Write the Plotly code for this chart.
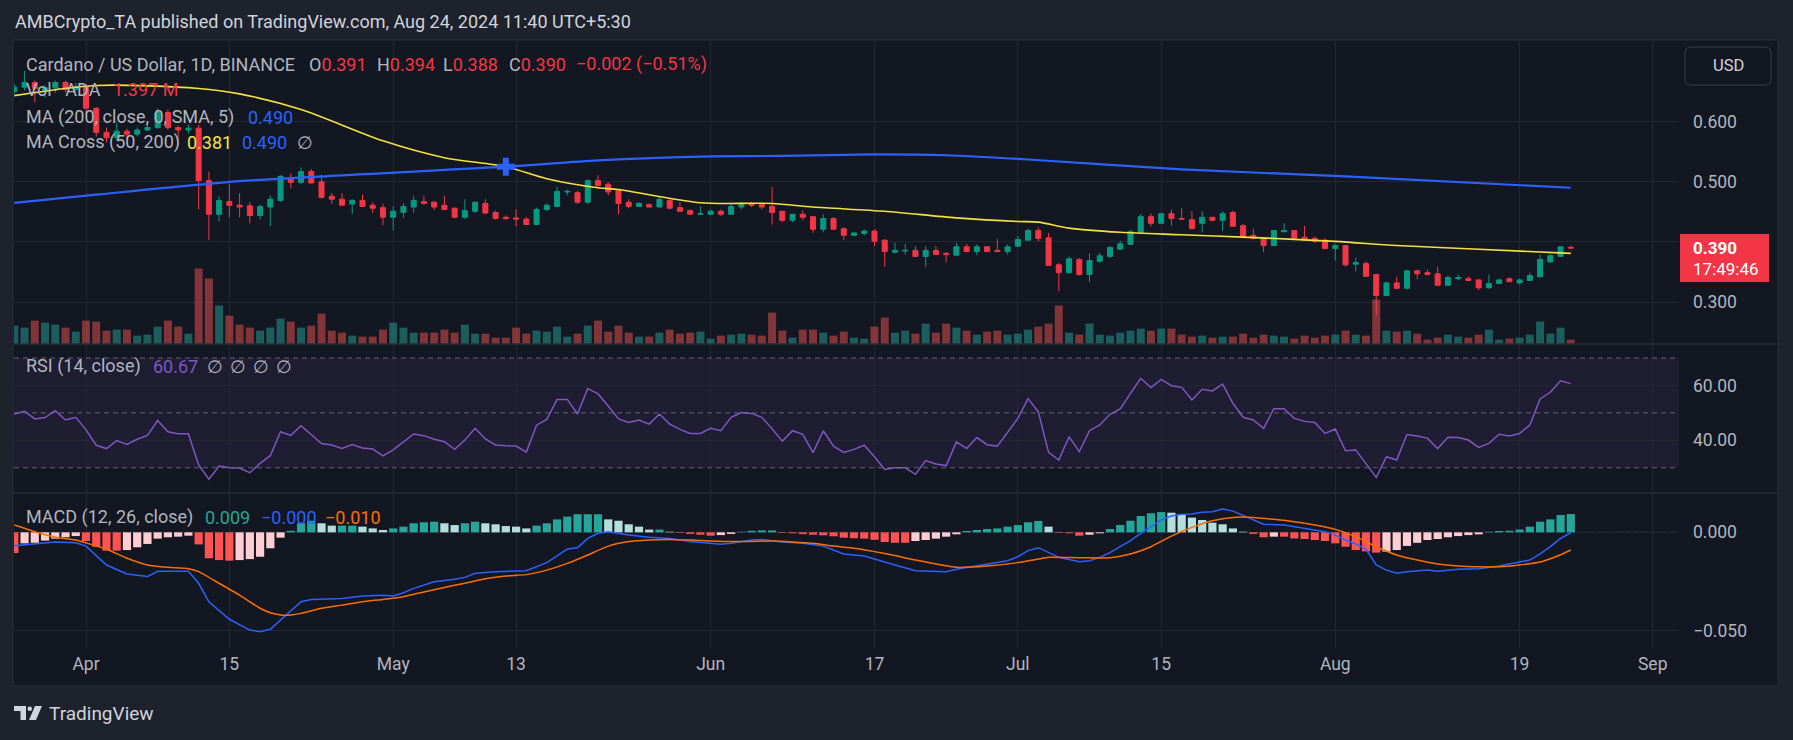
import pandas as pd
import plotly.graph_objects as go

# ---------------- data ----------------
dates = pd.date_range("2024-03-25", "2024-08-24", freq="D")

opens = [
    0.650, 0.657, 0.665, 0.652, 0.656, 0.665, 0.653,
    0.658, 0.622, 0.582, 0.573, 0.584, 0.579, 0.586, 0.590, 0.615, 0.590,
    0.586, 0.589, 0.502, 0.446, 0.467, 0.461, 0.460, 0.444, 0.458, 0.469,
    0.507, 0.499, 0.517, 0.500, 0.476, 0.471, 0.463, 0.469, 0.461, 0.457,
    0.441, 0.449, 0.458, 0.467, 0.466, 0.461, 0.456, 0.441, 0.451, 0.464,
    0.449, 0.441, 0.440, 0.438, 0.429, 0.454, 0.459, 0.483, 0.482, 0.466,
    0.502, 0.496, 0.486, 0.466, 0.459, 0.462, 0.458, 0.469, 0.457, 0.452, 0.446,
    0.446, 0.451, 0.446, 0.458, 0.462, 0.462, 0.459, 0.451, 0.436, 0.446,
    0.442, 0.421, 0.439, 0.422, 0.411, 0.414, 0.418, 0.403, 0.383, 0.385,
    0.386, 0.376, 0.386, 0.381, 0.378, 0.392, 0.384, 0.392, 0.386, 0.384,
    0.393, 0.403, 0.419, 0.407, 0.362, 0.349, 0.371, 0.346, 0.368, 0.376,
    0.388, 0.396, 0.416, 0.442, 0.431, 0.447, 0.439, 0.437, 0.431, 0.441,
    0.436, 0.449, 0.427, 0.411, 0.407, 0.394, 0.417, 0.419, 0.408, 0.406, 0.403,
    0.389, 0.394, 0.363, 0.364, 0.346, 0.311, 0.332, 0.323, 0.352, 0.349,
    0.347, 0.328, 0.339, 0.339, 0.337, 0.324, 0.331, 0.339, 0.332, 0.336,
    0.342, 0.367, 0.376, 0.391,
]
highs = [
    0.662, 0.684, 0.668, 0.660, 0.668, 0.668, 0.664,
    0.660, 0.624, 0.590, 0.598, 0.588, 0.590, 0.598, 0.622, 0.620, 0.593,
    0.595, 0.595, 0.517, 0.476, 0.497, 0.481, 0.466, 0.462, 0.477, 0.511,
    0.514, 0.524, 0.521, 0.512, 0.481, 0.481, 0.471, 0.479, 0.466, 0.464,
    0.459, 0.464, 0.476, 0.477, 0.468, 0.477, 0.457, 0.471, 0.467, 0.471,
    0.452, 0.444, 0.454, 0.441, 0.457, 0.464, 0.492, 0.487, 0.485, 0.504,
    0.511, 0.499, 0.488, 0.471, 0.466, 0.464, 0.476, 0.471, 0.466, 0.454, 0.459,
    0.454, 0.454, 0.464, 0.467, 0.467, 0.464, 0.491, 0.451, 0.446, 0.452,
    0.442, 0.446, 0.441, 0.425, 0.416, 0.421, 0.421, 0.404, 0.399, 0.397,
    0.393, 0.393, 0.393, 0.383, 0.399, 0.397, 0.396, 0.392, 0.405, 0.396,
    0.410, 0.422, 0.424, 0.415, 0.365, 0.376, 0.373, 0.381, 0.382, 0.393,
    0.402, 0.420, 0.447, 0.447, 0.447, 0.454, 0.456, 0.451, 0.451, 0.441,
    0.451, 0.452, 0.430, 0.422, 0.407, 0.420, 0.431, 0.420, 0.427, 0.409, 0.406,
    0.397, 0.394, 0.374, 0.368, 0.346, 0.334, 0.342, 0.354, 0.354, 0.354,
    0.359, 0.344, 0.346, 0.343, 0.338, 0.346, 0.339, 0.341, 0.339, 0.349,
    0.379, 0.381, 0.392, 0.394,
]
lows = [
    0.645, 0.652, 0.632, 0.640, 0.648, 0.648, 0.650,
    0.612, 0.575, 0.565, 0.568, 0.570, 0.575, 0.584, 0.588, 0.586, 0.562,
    0.580, 0.454, 0.403, 0.434, 0.441, 0.441, 0.431, 0.437, 0.426, 0.467,
    0.489, 0.496, 0.497, 0.472, 0.463, 0.461, 0.446, 0.458, 0.448, 0.428,
    0.419, 0.440, 0.448, 0.462, 0.453, 0.453, 0.440, 0.438, 0.448, 0.446,
    0.437, 0.436, 0.426, 0.428, 0.428, 0.451, 0.457, 0.477, 0.463, 0.463,
    0.492, 0.477, 0.446, 0.456, 0.458, 0.458, 0.458, 0.454, 0.450, 0.445, 0.445,
    0.445, 0.443, 0.446, 0.454, 0.458, 0.454, 0.429, 0.433, 0.433, 0.436,
    0.415, 0.416, 0.421, 0.403, 0.410, 0.411, 0.393, 0.359, 0.381, 0.379,
    0.375, 0.358, 0.379, 0.366, 0.378, 0.384, 0.378, 0.384, 0.384, 0.379,
    0.393, 0.403, 0.401, 0.361, 0.318, 0.347, 0.344, 0.333, 0.365, 0.373,
    0.387, 0.396, 0.415, 0.426, 0.431, 0.427, 0.438, 0.422, 0.416, 0.434,
    0.418, 0.426, 0.406, 0.404, 0.383, 0.394, 0.416, 0.404, 0.403, 0.398, 0.388,
    0.369, 0.359, 0.351, 0.342, 0.278, 0.310, 0.321, 0.321, 0.338, 0.344,
    0.328, 0.328, 0.336, 0.335, 0.320, 0.322, 0.330, 0.334, 0.329, 0.336,
    0.342, 0.365, 0.376, 0.388,
]
closes = [
    0.657, 0.665, 0.655, 0.656, 0.665, 0.653, 0.658,
    0.622, 0.582, 0.573, 0.584, 0.579, 0.586, 0.590, 0.615, 0.590, 0.586,
    0.589, 0.502, 0.446, 0.469, 0.461, 0.458, 0.444, 0.459, 0.471, 0.509,
    0.499, 0.517, 0.498, 0.474, 0.471, 0.461, 0.469, 0.459, 0.456, 0.441,
    0.451, 0.459, 0.469, 0.464, 0.458, 0.454, 0.441, 0.452, 0.466, 0.448,
    0.439, 0.439, 0.438, 0.429, 0.454, 0.461, 0.484, 0.484, 0.466, 0.502,
    0.494, 0.483, 0.464, 0.459, 0.464, 0.458, 0.471, 0.456, 0.451, 0.446, 0.447,
    0.451, 0.446, 0.459, 0.462, 0.461, 0.458, 0.449, 0.436, 0.446, 0.441,
    0.421, 0.439, 0.421, 0.411, 0.415, 0.418, 0.401, 0.384, 0.386, 0.386,
    0.376, 0.386, 0.379, 0.379, 0.392, 0.384, 0.392, 0.384, 0.384, 0.392,
    0.404, 0.419, 0.406, 0.361, 0.349, 0.372, 0.346, 0.369, 0.377, 0.391,
    0.397, 0.417, 0.442, 0.431, 0.447, 0.439, 0.438, 0.422, 0.441, 0.436,
    0.447, 0.426, 0.409, 0.406, 0.394, 0.419, 0.419, 0.406, 0.403, 0.401, 0.389,
    0.394, 0.362, 0.366, 0.343, 0.311, 0.332, 0.323, 0.352, 0.347, 0.346,
    0.328, 0.341, 0.341, 0.336, 0.324, 0.331, 0.337, 0.334, 0.337, 0.344,
    0.371, 0.377, 0.392, 0.390,
]
volumes_m = [
    5.91, 5.27, 7.53, 6.88, 6.24, 5.27, 3.98,
    7.53, 7.20, 4.30, 4.62, 4.62, 2.69, 3.01, 5.59, 7.53, 5.59,
    3.33, 24.3, 21.1, 12.4, 9.14, 6.24, 5.27, 4.30, 5.27, 8.17,
    7.20, 5.27, 5.91, 9.78, 4.30, 3.66, 2.69, 2.37, 2.37, 4.62,
    6.88, 5.27, 3.66, 3.66, 3.66, 4.62, 3.66, 6.24, 3.33, 3.33,
    2.04, 2.04, 5.27, 3.33, 4.30, 3.98, 5.59, 2.37, 3.33, 5.91,
    7.53, 3.98, 5.91, 3.66, 2.37, 2.37, 3.66, 4.62, 3.33, 3.66, 3.98,
    1.72, 2.69, 3.01, 3.33, 3.01, 2.69, 10.1, 4.30, 2.04, 4.62,
    4.62, 3.66, 2.69, 3.98, 2.04, 1.72, 5.59, 8.49, 3.66, 4.30,
    3.33, 6.56, 3.66, 6.56, 5.27, 4.30, 3.01, 3.98, 4.30, 3.01,
    3.33, 4.62, 5.59, 6.56, 12.4, 3.66, 3.01, 6.56, 3.01, 2.69,
    3.66, 4.30, 4.95, 4.30, 4.95, 4.95, 3.01, 2.37, 2.69, 2.04,
    2.37, 2.37, 3.33, 2.04, 3.01, 2.69, 2.37, 1.72, 2.69, 2.04, 2.69,
    3.01, 4.30, 3.01, 2.69, 14.3, 4.30, 3.98, 4.30, 3.33, 1.40,
    2.04, 3.01, 2.37, 2.04, 3.01, 4.62, 1.40, 1.72, 2.04, 3.01,
    7.20, 3.33, 5.27, 1.397,
]
rsi = [
    49.6, 50.6, 47.8, 48.3, 50.8, 47.4, 48.4,
    43.8, 38.2, 37.0, 39.9, 38.5, 40.4, 41.8, 47.2, 43.1, 42.4,
    42.4, 31.0, 25.8, 30.6, 30.0, 29.9, 28.2, 31.6, 34.4, 43.1,
    41.8, 45.3, 42.2, 38.8, 38.3, 37.0, 38.5, 37.2, 36.8, 34.3,
    36.5, 39.4, 42.3, 41.7, 40.4, 39.5, 36.7, 40.1, 44.4, 40.5,
    38.3, 38.0, 37.9, 35.7, 45.5, 47.6, 54.9, 54.9, 49.6, 58.9,
    56.9, 52.5, 47.8, 46.5, 47.4, 45.9, 49.6, 45.9, 44.0, 42.5, 42.5,
    44.4, 43.5, 48.4, 50.1, 49.8, 48.4, 44.2, 39.7, 43.5, 42.2,
    35.5, 43.5, 37.9, 35.6, 36.7, 38.2, 34.0, 29.4, 30.0, 30.0,
    27.6, 32.6, 31.4, 30.8, 39.4, 37.0, 41.0, 38.4, 37.9, 42.8,
    48.0, 55.2, 50.4, 35.6, 32.8, 41.3, 35.9, 43.5, 45.6, 49.5,
    51.4, 57.1, 62.6, 59.2, 62.2, 59.9, 59.3, 54.7, 58.6, 58.0,
    60.5, 53.5, 48.4, 47.4, 44.4, 51.5, 51.5, 48.0, 46.9, 46.5, 42.5,
    44.1, 36.2, 36.5, 31.6, 26.5, 34.0, 32.8, 42.1, 41.6, 40.8,
    37.0, 41.1, 41.0, 40.1, 37.4, 38.9, 42.2, 41.6, 42.5, 45.6,
    55.1, 57.5, 61.7, 60.67,
]
macd_hist = [
    -0.0105, -0.0056, -0.0053, -0.0042, -0.0032, -0.0025, -0.0019,
    -0.0044, -0.0073, -0.0093, -0.0093, -0.0090, -0.0076, -0.0059, -0.0032, -0.0025, -0.0022,
    -0.0017, -0.0061, -0.0132, -0.0141, -0.0144, -0.0141, -0.0136, -0.0124, -0.0081, -0.0027,
    0.0008, 0.0046, 0.0059, 0.0046, 0.0034, 0.0034, 0.0034, 0.0029, 0.0020, 0.0012,
    0.0020, 0.0029, 0.0046, 0.0051, 0.0054, 0.0046, 0.0037, 0.0046, 0.0054, 0.0046,
    0.0041, 0.0032, 0.0029, 0.0020, 0.0034, 0.0046, 0.0066, 0.0080, 0.0092, 0.0092,
    0.0092, 0.0066, 0.0059, 0.0041, 0.0029, 0.0014, 0.0014, 0.0003, -0.0003, -0.0008, -0.0012,
    -0.0017, -0.0014, -0.0008, 0.0003, 0.0008, 0.0010, 0.0010, -0.0003, -0.0005, -0.0009,
    -0.0012, -0.0015, -0.0020, -0.0027, -0.0030, -0.0032, -0.0038, -0.0049, -0.0053, -0.0053,
    -0.0044, -0.0039, -0.0032, -0.0022, -0.0010, 0.0007, 0.0012, 0.0017, 0.0020, 0.0029,
    0.0037, 0.0051, 0.0058, 0.0029, -0.0003, -0.0005, -0.0017, -0.0012, -0.0005, 0.0017,
    0.0037, 0.0059, 0.0083, 0.0097, 0.0103, 0.0100, 0.0090, 0.0075, 0.0063, 0.0049,
    0.0041, 0.0020, 0.0003, -0.0008, -0.0025, -0.0022, -0.0022, -0.0031, -0.0034, -0.0039, -0.0044,
    -0.0056, -0.0073, -0.0090, -0.0097, -0.0103, -0.0098, -0.0090, -0.0069, -0.0053, -0.0039,
    -0.0034, -0.0025, -0.0019, -0.0014, -0.0010, 0.0003, 0.0007, 0.0008, 0.0014, 0.0029,
    0.0054, 0.0066, 0.0088, 0.0093,
]

ma200_dates = ["2024-03-25", "2024-04-02", "2024-04-16", "2024-05-12", "2024-05-21",
               "2024-06-01", "2024-06-08", "2024-06-17", "2024-06-24", "2024-07-02",
               "2024-07-17", "2024-08-02", "2024-08-24"]
ma200_vals = [0.465, 0.4785, 0.501, 0.525, 0.5355, 0.542, 0.543, 0.5455, 0.544,
              0.537, 0.5205, 0.509, 0.490]

ma50_dates = ["2024-03-25", "2024-04-02", "2024-04-12", "2024-04-16", "2024-04-22",
              "2024-04-30", "2024-05-06", "2024-05-12", "2024-05-16", "2024-05-21",
              "2024-05-23", "2024-05-31", "2024-06-07", "2024-06-11", "2024-06-18",
              "2024-06-25", "2024-07-01", "2024-07-03", "2024-07-06", "2024-07-11",
              "2024-07-17", "2024-07-23", "2024-08-01", "2024-08-07", "2024-08-15",
              "2024-08-24"]
ma50_vals = [0.643, 0.660, 0.655, 0.646, 0.620, 0.568, 0.540, 0.525, 0.505, 0.490,
             0.487, 0.465, 0.464, 0.458, 0.451, 0.440, 0.434, 0.433, 0.423, 0.416,
             0.412, 0.408, 0.401, 0.394, 0.388, 0.381]

cross_date = ["2024-05-12"]
cross_val = [0.525]

macd_dates = ["2024-03-25", "2024-03-27", "2024-03-29", "2024-03-31", "2024-04-01",
              "2024-04-03", "2024-04-05", "2024-04-07", "2024-04-08", "2024-04-11",
              "2024-04-12", "2024-04-13", "2024-04-15", "2024-04-17", "2024-04-18",
              "2024-04-19", "2024-04-20", "2024-04-21", "2024-04-22", "2024-04-23",
              "2024-04-26", "2024-04-28", "2024-04-30", "2024-05-01", "2024-05-02",
              "2024-05-03", "2024-05-05", "2024-05-07", "2024-05-08", "2024-05-09",
              "2024-05-11", "2024-05-14", "2024-05-15", "2024-05-16", "2024-05-17",
              "2024-05-18", "2024-05-19", "2024-05-20", "2024-05-21", "2024-05-22",
              "2024-05-24", "2024-05-26", "2024-05-28", "2024-05-30", "2024-06-02",
              "2024-06-03", "2024-06-05", "2024-06-06", "2024-06-08", "2024-06-10",
              "2024-06-12", "2024-06-14", "2024-06-16", "2024-06-18", "2024-06-19",
              "2024-06-21", "2024-06-24", "2024-06-25", "2024-06-28", "2024-06-30",
              "2024-07-01", "2024-07-02", "2024-07-03", "2024-07-04", "2024-07-05",
              "2024-07-07", "2024-07-08", "2024-07-09", "2024-07-10", "2024-07-11",
              "2024-07-12", "2024-07-13", "2024-07-14", "2024-07-15", "2024-07-16",
              "2024-07-17", "2024-07-18", "2024-07-19", "2024-07-20", "2024-07-21",
              "2024-07-22", "2024-07-23", "2024-07-24", "2024-07-25", "2024-07-27",
              "2024-07-29", "2024-07-31", "2024-08-01", "2024-08-02", "2024-08-03",
              "2024-08-04", "2024-08-05", "2024-08-06", "2024-08-07", "2024-08-08",
              "2024-08-10", "2024-08-11", "2024-08-13", "2024-08-15", "2024-08-17",
              "2024-08-19", "2024-08-20", "2024-08-21", "2024-08-22", "2024-08-23",
              "2024-08-24"]
macd_vals = [-0.0068, -0.0059, -0.0049, -0.0053, -0.0070,
             -0.0166, -0.0212, -0.0225, -0.0198, -0.0198,
             -0.0259, -0.0353, -0.0442, -0.0497, -0.0505,
             -0.0493, -0.0446, -0.0395, -0.0353, -0.0341,
             -0.0336, -0.0324, -0.0320, -0.0324, -0.0307,
             -0.0285, -0.0251, -0.0239, -0.0229, -0.0208,
             -0.0200, -0.0195, -0.0175, -0.0154, -0.0120,
             -0.0085, -0.0078, -0.0031, -0.0005, 0.0003,
             -0.0014, -0.0025, -0.0031, -0.0047, -0.0061,
             -0.0056, -0.0039, -0.0036, -0.0049, -0.0056,
             -0.0070, -0.0110, -0.0120, -0.0152, -0.0166,
             -0.0195, -0.0200, -0.0188, -0.0161, -0.0144,
             -0.0124, -0.0093, -0.0078, -0.0103, -0.0127,
             -0.0149, -0.0144, -0.0127, -0.0103, -0.0073,
             -0.0042, -0.0005, 0.0029, 0.0063, 0.0083,
             0.0092, 0.0093, 0.0102, 0.0105, 0.0119,
             0.0108, 0.0085, 0.0063, 0.0041, 0.0037,
             0.0020, 0.0003, -0.0014, -0.0039, -0.0059,
             -0.0086, -0.0166, -0.0192, -0.0208, -0.0200,
             -0.0192, -0.0198, -0.0188, -0.0185, -0.0171,
             -0.0149, -0.0141, -0.0110, -0.0073, -0.0031,
             -0.0002]

signal_dates = ["2024-03-25", "2024-03-27", "2024-03-29", "2024-03-31", "2024-04-03",
                "2024-04-05", "2024-04-07", "2024-04-09", "2024-04-11", "2024-04-12",
                "2024-04-14", "2024-04-16", "2024-04-18", "2024-04-19", "2024-04-20",
                "2024-04-21", "2024-04-22", "2024-04-24", "2024-04-26", "2024-04-28",
                "2024-04-30", "2024-05-02", "2024-05-04", "2024-05-06", "2024-05-08",
                "2024-05-10", "2024-05-12", "2024-05-14", "2024-05-16", "2024-05-18",
                "2024-05-20", "2024-05-22", "2024-05-24", "2024-05-26", "2024-05-28",
                "2024-05-30", "2024-06-01", "2024-06-03", "2024-06-05", "2024-06-07",
                "2024-06-09", "2024-06-11", "2024-06-13", "2024-06-15", "2024-06-17",
                "2024-06-19", "2024-06-21", "2024-06-25", "2024-06-28", "2024-07-01",
                "2024-07-03", "2024-07-04", "2024-07-07", "2024-07-10", "2024-07-12",
                "2024-07-14", "2024-07-16", "2024-07-18", "2024-07-20", "2024-07-22",
                "2024-07-24", "2024-07-26", "2024-07-28", "2024-07-30", "2024-08-01",
                "2024-08-03", "2024-08-05", "2024-08-07", "2024-08-09", "2024-08-11",
                "2024-08-13", "2024-08-15", "2024-08-17", "2024-08-19", "2024-08-21",
                "2024-08-22", "2024-08-23", "2024-08-24"]
signal_vals = [0.0037, 0.0003, -0.0025, -0.0039, -0.0086,
               -0.0132, -0.0166, -0.0178, -0.0185, -0.0200,
               -0.0259, -0.0319, -0.0386, -0.0409, -0.0420,
               -0.0420, -0.0412, -0.0386, -0.0370, -0.0353,
               -0.0341, -0.0327, -0.0303, -0.0280, -0.0259,
               -0.0236, -0.0222, -0.0215, -0.0192, -0.0158,
               -0.0115, -0.0070, -0.0047, -0.0039, -0.0036,
               -0.0039, -0.0044, -0.0047, -0.0046, -0.0044,
               -0.0049, -0.0056, -0.0070, -0.0081, -0.0098,
               -0.0118, -0.0141, -0.0178, -0.0171, -0.0154,
               -0.0136, -0.0127, -0.0129, -0.0129, -0.0110,
               -0.0073, -0.0019, 0.0025, 0.0059, 0.0076,
               0.0076, 0.0066, 0.0054, 0.0037, 0.0015,
               -0.0022, -0.0073, -0.0115, -0.0141, -0.0161,
               -0.0171, -0.0175, -0.0175, -0.0166, -0.0151,
               -0.0134, -0.0114, -0.0090]

tick_dates = ["2024-04-01", "2024-04-15", "2024-05-01", "2024-05-13", "2024-06-01",
              "2024-06-17", "2024-07-01", "2024-07-15", "2024-08-01", "2024-08-19",
              "2024-09-01"]
tick_text = ["Apr", "15", "May", "13", "Jun", "17", "Jul", "15", "Aug", "19", "Sep"]

for arr in (opens, highs, lows, closes, volumes_m, rsi, macd_hist):
    assert len(arr) == len(dates), len(arr)

# ---------------- styling ----------------
W, H = 1793, 740
FONT = "Roboto"
TXT = "#b2b5be"
GRID = "#232733"
GREEN, RED = "#089981", "#f23645"
BLUE, YELLOW, PURPLE, ORANGE = "#2962ff", "#f5e33b", "#7e57c2", "#ff6d00"
LEG = 18
AX = 17.5


def fx(x):
    return x / W


def fy(y):
    return 1 - y / H


PANEL_T, PRICE_B, RSI_B, MACD_B, PANEL_B = 40, 344, 493, 648, 686
PLOT_L, PLOT_R, PANEL_R = 14, 1679, 1778

day0 = pd.Timestamp("2024-04-01")
x_lo = day0 + pd.Timedelta(days=(PLOT_L - 86) / 10.24)
x_hi = day0 + pd.Timedelta(days=(PLOT_R - 86) / 10.24)

vol_colors = ["rgba(38,166,154,0.5)" if c >= o else "rgba(239,83,80,0.5)"
              for o, c in zip(opens, closes)]
hist_colors = []
prev = 0.0
for v in macd_hist:
    if v >= 0:
        hist_colors.append("#26a69a" if v >= prev else "#b2dfdb")
    else:
        hist_colors.append("#ffcdd2" if v > prev else "#ff5252")
    prev = v

fig = go.Figure()
day_ms = 86400000

fig.add_trace(go.Bar(x=dates, y=volumes_m, marker=dict(color=vol_colors, line=dict(width=0)),
                     width=0.78 * day_ms, xaxis="x", yaxis="y2"))
fig.add_trace(go.Scatter(x=ma200_dates, y=ma200_vals, mode="lines",
                         line=dict(color=BLUE, width=2.2, shape="spline", smoothing=0.6),
                         xaxis="x", yaxis="y"))
fig.add_trace(go.Scatter(x=ma50_dates, y=ma50_vals, mode="lines",
                         line=dict(color=YELLOW, width=1.6, shape="spline", smoothing=0.8),
                         xaxis="x", yaxis="y"))
fig.add_trace(go.Candlestick(x=dates, open=opens, high=highs, low=lows, close=closes,
                             increasing=dict(line=dict(color=GREEN, width=1), fillcolor=GREEN),
                             decreasing=dict(line=dict(color=RED, width=1), fillcolor=RED),
                             whiskerwidth=0, xaxis="x", yaxis="y"))
fig.add_trace(go.Scatter(x=cross_date, y=cross_val, mode="markers",
                         marker=dict(symbol="cross", size=15, color=BLUE, line=dict(width=0)),
                         xaxis="x", yaxis="y"))
fig.add_trace(go.Scatter(x=dates, y=rsi, mode="lines", line=dict(color=PURPLE, width=1.5),
                         xaxis="x", yaxis="y3"))
fig.add_trace(go.Bar(x=dates, y=macd_hist, marker=dict(color=hist_colors, line=dict(width=0)),
                     width=0.8 * day_ms, xaxis="x", yaxis="y4"))
fig.add_trace(go.Scatter(x=macd_dates, y=macd_vals, mode="lines", line=dict(color=BLUE, width=1.5),
                         xaxis="x", yaxis="y4"))
fig.add_trace(go.Scatter(x=signal_dates, y=signal_vals, mode="lines",
                         line=dict(color=ORANGE, width=1.5, shape="spline", smoothing=0.5),
                         xaxis="x", yaxis="y4"))

yax_common = dict(side="right", anchor="x", showgrid=True, gridcolor=GRID, zeroline=False,
                  showline=False, ticks="", ticklabelstandoff=13,
                  tickfont=dict(family=FONT, size=AX, color=TXT), fixedrange=True)

fig.update_layout(
    width=W, height=H, margin=dict(l=0, r=0, t=0, b=0),
    paper_bgcolor="#1e222d", plot_bgcolor="rgba(0,0,0,0)",
    showlegend=False, barmode="overlay", hovermode=False,
    font=dict(family=FONT, color=TXT, size=15),
    xaxis=dict(domain=[fx(PLOT_L), fx(PLOT_R)], range=[x_lo, x_hi], anchor="y4", type="date",
               tickvals=tick_dates, ticktext=tick_text, showgrid=True, gridcolor=GRID,
               zeroline=False, showline=False, ticks="", ticklabelstandoff=3,
               tickfont=dict(family=FONT, size=AX, color=TXT),
               rangeslider=dict(visible=False), fixedrange=True),
    yaxis=dict(domain=[fy(PRICE_B), fy(PANEL_T + 1)], range=[0.2305, 0.7338],
               tickvals=[0.3, 0.4, 0.5, 0.6], ticktext=["0.300", "", "0.500", "0.600"], **yax_common),
    yaxis2=dict(overlaying="y", range=[0, 97.5], visible=False, fixedrange=True),
    yaxis3=dict(domain=[fy(RSI_B), fy(PRICE_B)], range=[20.8, 75.1],
                tickvals=[40, 60], tickformat=".2f", **yax_common),
    yaxis4=dict(domain=[fy(MACD_B), fy(RSI_B)], range=[-0.0588, 0.0200],
                tickvals=[-0.05, 0.0], ticktext=["\u22120.050", "0.000"], **yax_common),
)

shapes = []
shapes.append(dict(type="rect", xref="paper", yref="paper", x0=fx(PLOT_L - 1), x1=fx(PANEL_R),
                   y0=fy(PANEL_B), y1=fy(PANEL_T), fillcolor="#131722",
                   line=dict(color="#2a2e39", width=1), layer="below"))
for yy in (PRICE_B, RSI_B):
    shapes.append(dict(type="line", xref="paper", yref="paper", x0=fx(PLOT_L - 1), x1=fx(PANEL_R),
                       y0=fy(yy), y1=fy(yy), line=dict(color="#2a2e39", width=1.5)))
shapes.append(dict(type="rect", xref="x domain", yref="y3", x0=0, x1=1, y0=30, y1=70,
                   fillcolor="rgba(126,87,194,0.1)", line=dict(width=0), layer="below"))
for lvl in (70, 50, 30):
    shapes.append(dict(type="line", xref="x domain", yref="y3", x0=0, x1=1, y0=lvl, y1=lvl,
                       line=dict(color="rgba(120,123,134,0.75)", width=1, dash="5px,4px")))
shapes.append(dict(type="line", xref="x domain", yref="y4", x0=0, x1=1, y0=0, y1=0,
                   line=dict(color="rgba(120,123,134,0.6)", width=1, dash="5px,4px"), layer="below"))
shapes.append(dict(type="rect", xref="paper", yref="paper", x0=fx(1680), x1=fx(1769),
                   y0=fy(282), y1=fy(234), fillcolor=RED, line=dict(width=0)))


def rrect(x0, y0, x1, y1, r):
    pts = [(x0 + r, y0), (x1 - r, y0), ("Q", x1, y0, x1, y0 + r), (x1, y1 - r),
           ("Q", x1, y1, x1 - r, y1), (x0 + r, y1), ("Q", x0, y1, x0, y1 - r),
           (x0, y0 + r), ("Q", x0, y0, x0 + r, y0)]
    s = ""
    for i, p in enumerate(pts):
        if p[0] == "Q":
            s += f" Q{fx(p[1])},{fy(p[2])} {fx(p[3])},{fy(p[4])}"
        else:
            s += (" M" if i == 0 else " L") + f"{fx(p[0])},{fy(p[1])}"
    return s + " Z"


shapes.append(dict(type="path", xref="paper", yref="paper", path=rrect(1685, 47, 1771, 85, 6),
                   fillcolor="#131722", line=dict(color="#3a3e4a", width=1)))
shapes.append(dict(type="path", xref="paper", yref="paper",
                   path=f"M{fx(14)},{fy(706)} L{fx(26)},{fy(706)} L{fx(26)},{fy(720)} L{fx(20.5)},{fy(720)} "
                        f"L{fx(20.5)},{fy(711)} L{fx(14)},{fy(711)} Z",
                   fillcolor="#d1d4dc", line=dict(width=0)))
shapes.append(dict(type="circle", xref="paper", yref="paper", x0=fx(27.5), x1=fx(32), y0=fy(711), y1=fy(706.5),
                   fillcolor="#d1d4dc", line=dict(width=0)))
shapes.append(dict(type="path", xref="paper", yref="paper",
                   path=f"M{fx(35)},{fy(706)} L{fx(42)},{fy(706)} L{fx(36)},{fy(720)} L{fx(29)},{fy(720)} Z",
                   fillcolor="#d1d4dc", line=dict(width=0)))
fig.update_layout(shapes=shapes)


def ann(x, y, text, size=LEG, color=TXT, xanchor="left", **kw):
    return dict(x=fx(x), y=fy(y), xref="paper", yref="paper", text=text, showarrow=False,
                xanchor=xanchor, yanchor="middle", font=dict(family=FONT, size=size, color=color), **kw)


def red(t):
    return f"<span style='color:{RED}'>{t}</span>"


anns = [
    ann(13, 21, "AMBCrypto_TA published on TradingView.com, Aug 24, 2024 11:40 UTC+5:30", color="#d1d4dc"),
    ann(24, 64, "Cardano / US Dollar, 1D, BINANCE"),
    ann(307, 64, "O" + red("0.391")),
    ann(375, 64, "H" + red("0.394")),
    ann(441, 64, "L" + red("0.388")),
    ann(507, 64, "C" + red("0.390")),
    ann(574, 64, "\u22120.002 (\u22120.51%)", color=RED),
    ann(24, 90, "Vol · ADA"),
    ann(111, 90, "1.397 M", color=RED),
    ann(24, 117, "MA (200, close, 0, SMA, 5)"),
    ann(246, 117, "0.490", color=BLUE),
    ann(24, 142, "MA Cross (50, 200)"),
    ann(185, 142, "0.381", color=YELLOW),
    ann(240, 142, "0.490", color=BLUE),
    ann(295, 142, "\u2205"),
    ann(24, 366, "RSI (14, close)"),
    ann(151, 366, "60.67", color=PURPLE),
    ann(205, 366, "\u2205"),
    ann(228, 366, "\u2205"),
    ann(251, 366, "\u2205"),
    ann(274, 366, "\u2205"),
    ann(24, 517, "MACD (12, 26, close)"),
    ann(203, 517, "0.009", color="#26a69a"),
    ann(259, 517, "\u22120.000", color=BLUE),
    ann(323, 517, "\u22120.010", color=ORANGE),
    ann(1691, 248, "<b>0.390</b>", size=17, color="#ffffff"),
    ann(1691, 269, "17:49:46", size=17, color="#ffffff"),
    ann(1728, 66, "USD", size=16.5, color="#d1d4dc", xanchor="center"),
    ann(47, 713, "TradingView", size=19, color="#d1d4dc"),
]
fig.update_layout(annotations=anns)

fig.write_html("out.html", config={"displayModeBar": False, "staticPlot": True},
               post_script="document.body.style.margin='0';document.body.style.overflow='hidden';")
